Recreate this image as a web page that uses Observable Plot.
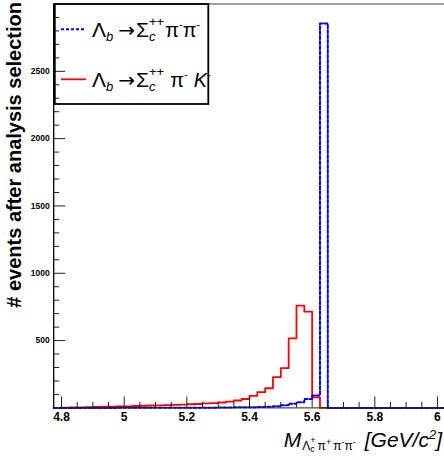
<!DOCTYPE html>
<html><head><meta charset="utf-8">
<script src="https://cdn.jsdelivr.net/npm/d3@7"></script>
<script src="https://cdn.jsdelivr.net/npm/@observablehq/plot@0.6"></script>
<style>
html,body{margin:0;padding:0;background:#fff;overflow:hidden}
svg{display:block}
</style></head><body><div id="chart"></div>
<script>
// Histogram bin low edges (GeV/c^2), bin width 0.025
const binEdges = [4.775,4.8,4.825,4.85,4.875,4.9,4.925,4.95,4.975,5.0,
  5.025,5.05,5.075,5.1,5.125,5.15,5.175,5.2,5.225,5.25,
  5.275,5.3,5.325,5.35,5.375,5.4,5.425,5.45,5.475,5.5,
  5.525,5.55,5.575,5.6,5.625,5.65,5.675,5.7,5.725,5.75,
  5.775,5.8,5.825,5.85,5.875,5.9,5.925,5.95,5.975,6.0];
const binWidth = 0.025;
// Λb → Σc++ π- π-  (blue dashed)
const sigmaPiPi = [0,0,0,0,0,0,0,0,1,1,
  1,1,1,1,1,1,1,2,2,2,
  2,3,3,4,5,5,6,8,12,20,
  30,42,67,92,2855,0,0,0,0,0,
  0,0,0,0,0,0,0,0,0,0];
// Λb → Σc++ π- K-  (red solid)
const sigmaPiK = [0,2,3,4,6,8,9,10,11,12,
  14,16,18,19,21,22,24,27,29,33,
  36,40,47,55,66,90,117,146,228,295,
  517,760,715,78,0,0,0,0,0,0,
  0,0,0,0,0,0,0,0,0,0];
const xTickLabels = [4.8,5,5.2,5.4,5.6,5.8,6];
const yTickLabels = [500,1000,1500,2000,2500];
const xDomain = [4.775, 6.025];
const yDomain = [0, 3000];

const xMinor = d3.range(0, 25).map(i => 4.8 + i*0.05).filter(v => Math.abs(Math.round(v*5)/5 - v) > 1e-6);
const yMinor = d3.range(1, 30).map(i => i*100).filter(v => v % 500 !== 0);

function steps(values) {
  const pts = binEdges.map((e, i) => ({x: e, y: values[i]}));
  pts.push({x: binEdges[binEdges.length-1] + binWidth, y: values[values.length-1]});
  return pts;
}

const W = 444, H = 460, mL = 53.2, mT = 3.5, mB = 52.6, xRight = 444.8;
const frameW = W - mL, frameH = H - mT - mB;
const tickColor = "#222";

const chart = Plot.plot({
  width: W, height: H,
  marginLeft: mL, marginRight: 0, marginTop: mT, marginBottom: mB,
  style: {fontFamily: "'Liberation Sans', Arial, Helvetica, sans-serif", background: "#fff", overflow: "visible"},
  x: {domain: xDomain, range: [mL, xRight]},
  y: {domain: yDomain},
  marks: [
    Plot.ruleY([yDomain[1]], {stroke: "#808080", strokeWidth: 1.4}),
    Plot.line(steps(sigmaPiK), {x: "x", y: "y", curve: "step-after", stroke: "#ff0000", strokeWidth: 1.8}),
    Plot.line(steps(sigmaPiPi), {x: "x", y: "y", curve: "step-after", stroke: "#0000ff", strokeWidth: 2, strokeDasharray: "3,2"}),
    Plot.ruleX(xTickLabels, {x: d => d, insetTop: frameH - 11, stroke: tickColor, strokeWidth: 1}),
    Plot.ruleX(xMinor, {x: d => d, insetTop: frameH - 5.5, stroke: tickColor, strokeWidth: 1}),
    Plot.ruleY(yTickLabels, {y: d => d, insetRight: frameW - 12, stroke: tickColor, strokeWidth: 1}),
    Plot.ruleY(yMinor, {y: d => d, insetRight: frameW - 6, stroke: tickColor, strokeWidth: 1}),
    Plot.ruleY([0], {stroke: "#222", strokeWidth: 1}),
    Plot.ruleX([xDomain[0]], {stroke: "#000", strokeWidth: 1.3}),
    Plot.axisX({ticks: xTickLabels, tickSize: 0, tickPadding: 5, fontSize: 12, fontWeight: "bold", tickFormat: d => String(d), label: null, fill: "#000"}),
    Plot.axisY({ticks: yTickLabels, tickSize: 0, tickPadding: 4, fontSize: 8.5, fontWeight: "bold", tickFormat: d => String(d), label: null, fill: "#000"})
  ]
});
document.getElementById("chart").appendChild(chart);

const svg = d3.select(chart);
const ff = "'Liberation Sans', Arial, Helvetica, sans-serif";

// Y title
svg.append("text")
  .attr("transform", "translate(20.7,2) rotate(-90)")
  .attr("text-anchor", "end")
  .attr("font-family", ff).attr("font-size", 20).attr("font-weight", "bold").attr("fill", "#000")
  .text("# events after analysis selection");

function addParts(t, parts) {
  for (const [s, o] of parts) {
    const ts = t.append("tspan").attr("font-size", o.fs).text(s);
    if (o.it) ts.attr("font-style", "italic");
    if (o.dx) ts.attr("dx", o.dx);
    if (o.dy) ts.attr("dy", o.dy);
    if (o.ff) ts.attr("font-family", o.ff);
  }
}

// X title
const xt = svg.append("text").attr("x", 442).attr("y", 447).attr("text-anchor", "end")
  .attr("font-family", ff).attr("fill", "#000");
addParts(xt, [
  ["M", {fs: 21, it: true}],
  ["Λ", {fs: 12, dx: 1, dy: 3}],
  ["c", {fs: 9, it: true, dy: 2}],
  ["+", {fs: 9, dx: -4.5, dy: -9}],
  ["π", {fs: 12, dx: 2, dy: 7}],
  ["+", {fs: 9, dy: -5}],
  ["π", {fs: 12, dx: 2, dy: 5}],
  ["-", {fs: 9, dy: -5}],
  ["π", {fs: 12, dy: 5}],
  ["-", {fs: 9, dy: -5}],
  ["[GeV/c", {fs: 21, it: true, dx: 9, dy: 2}],
  ["2", {fs: 13, it: true, dy: -8}],
  ["]", {fs: 21, it: true, dy: 8}]
]);

// Legend
const lg = svg.append("g");
lg.append("rect").attr("x", 54.8).attr("y", 4).attr("width", 153.5).attr("height", 100)
  .attr("fill", "none").attr("stroke", "#000").attr("stroke-width", 1.8);
lg.append("line").attr("x1", 61).attr("x2", 86).attr("y1", 29.3).attr("y2", 29.3)
  .attr("stroke", "#0000ff").attr("stroke-width", 2).attr("stroke-dasharray", "3,2");
lg.append("line").attr("x1", 61).attr("x2", 86).attr("y1", 79.3).attr("y2", 79.3)
  .attr("stroke", "#ff0000").attr("stroke-width", 1.8);
const head = [
  ["Λ", {fs: 21}],
  ["b", {fs: 13, it: true, dy: 4}],
  ["→", {fs: 20, dx: 5, dy: -4, ff: "'DejaVu Sans', sans-serif"}],
  ["Σ", {fs: 21, dx: 1}],
  ["c", {fs: 13, it: true, dy: 4}],
  ["++", {fs: 13, dx: -6.5, dy: -15}]
];
const t1 = lg.append("text").attr("x", 92).attr("y", 37.3).attr("text-anchor", "start")
  .attr("font-family", ff).attr("fill", "#000");
addParts(t1, head.concat([
  ["π", {fs: 20, dx: 1, dy: 11}],
  ["-", {fs: 11, dy: -9}],
  ["π", {fs: 20, dy: 9}],
  ["-", {fs: 11, dy: -9}]
]));
const t2 = lg.append("text").attr("x", 92).attr("y", 87.3).attr("text-anchor", "start")
  .attr("font-family", ff).attr("fill", "#000");
addParts(t2, head.concat([
  ["π", {fs: 20, dx: 6, dy: 11}],
  ["-", {fs: 11, dy: -9}],
  ["K", {fs: 20, it: true, dx: 6, dy: 9}],
  ["-", {fs: 11, dy: -9}]
]));
</script></body></html>
